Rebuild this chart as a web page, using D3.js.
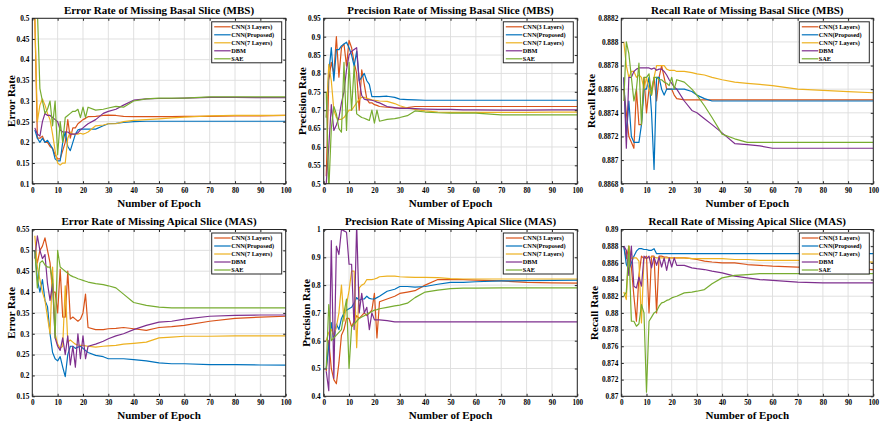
<!DOCTYPE html>
<html>
<head>
<meta charset="utf-8">
<script src="https://cdn.jsdelivr.net/npm/d3@7"></script>
<style>
  body { margin: 0; background: #fff; }
  text { font-family: "Liberation Serif", "Times New Roman", serif; font-weight: bold; fill: #000; }
</style>
</head>
<body>
<script>
const epochs = [1,2,3,4,5,6,7,8,9,10,11,12,13,14,15,16,17,18,19,20,21,22,25,28,30,33,36,40,45,50,55,60,70,80,90,100];
const seriesNames = ["CNN(3 Layers)", "CNN(Proposed)", "CNN(7 Layers)", "DBM", "SAE"];
const xTicks = [0,10,20,30,40,50,60,70,80,90,100];

// Error rate, MBS
const errMbsCnn3 = [0.50,0.21,0.21,0.215,0.20,0.20,0.19,0.185,0.17,0.16,0.16,0.18,0.20,0.255,0.21,0.235,0.235,0.245,0.25,0.255,0.258,0.262, 0.263,0.265,0.266,0.265,0.263,0.262,0.262,0.262,0.262,0.263,0.263,0.264,0.264,0.265];
const errMbsProp = [0.23,0.21,0.20,0.21,0.20,0.205,0.195,0.185,0.16,0.155,0.155,0.20,0.225,0.19,0.18,0.20,0.22,0.23,0.232,0.232,0.232,0.232, 0.232,0.24,0.245,0.246,0.248,0.25,0.251,0.251,0.251,0.251,0.251,0.251,0.251,0.251];
const errMbsCnn7 = [0.50,0.25,0.29,0.305,0.29,0.27,0.255,0.22,0.18,0.15,0.145,0.15,0.15,0.21,0.225,0.22,0.22,0.22,0.222,0.22,0.222,0.225, 0.24,0.242,0.245,0.245,0.25,0.253,0.255,0.257,0.259,0.261,0.264,0.265,0.265,0.265];
const errMbsDbm = [0.235,0.22,0.215,0.25,0.27,0.265,0.265,0.26,0.255,0.25,0.23,0.225,0.225,0.225,0.22,0.22,0.22,0.223,0.23,0.235,0.24,0.245, 0.255,0.27,0.275,0.28,0.29,0.302,0.305,0.306,0.306,0.307,0.309,0.309,0.308,0.308];
const errMbsSae = [0.52,0.52,0.33,0.30,0.27,0.28,0.30,0.24,0.30,0.17,0.25,0.20,0.26,0.265,0.27,0.275,0.275,0.28,0.26,0.285,0.26,0.285, 0.278,0.28,0.283,0.287,0.285,0.30,0.305,0.307,0.307,0.307,0.31,0.31,0.31,0.31];
const errMbsTicks = [0.1,0.15,0.2,0.25,0.3,0.35,0.4,0.45,0.5];

// Precision rate, MBS
const precMbsCnn3 = [0.52,0.78,0.83,0.80,0.90,0.79,0.87,0.88,0.82,0.89,0.87,0.83,0.80,0.70,0.81,0.77,0.73,0.72,0.72,0.715,0.713,0.71, 0.708,0.706,0.706,0.707,0.71,0.71,0.71,0.71,0.71,0.71,0.71,0.71,0.71,0.71];
const precMbsProp = [0.68,0.80,0.87,0.78,0.865,0.865,0.875,0.88,0.885,0.87,0.85,0.82,0.86,0.78,0.79,0.80,0.78,0.77,0.737,0.737,0.737,0.737, 0.738,0.735,0.73,0.729,0.728,0.727,0.727,0.727,0.727,0.727,0.727,0.727,0.727,0.727];
const precMbsCnn7 = [0.68,0.825,0.78,0.70,0.68,0.675,0.675,0.68,0.69,0.70,0.70,0.71,0.72,0.73,0.735,0.735,0.732,0.73,0.728,0.727,0.726,0.725, 0.724,0.718,0.712,0.706,0.702,0.698,0.695,0.694,0.694,0.694,0.694,0.694,0.695,0.695];
const precMbsDbm = [0.50,0.60,0.715,0.645,0.66,0.68,0.72,0.75,0.81,0.85,0.86,0.865,0.87,0.78,0.74,0.73,0.728,0.728,0.727,0.725,0.722,0.72, 0.71,0.707,0.705,0.705,0.704,0.703,0.702,0.702,0.701,0.701,0.70,0.70,0.701,0.701];
const precMbsSae = [0.75,0.48,0.65,0.71,0.69,0.65,0.64,0.83,0.645,0.83,0.70,0.82,0.69,0.685,0.68,0.678,0.675,0.672,0.70,0.665,0.70,0.67, 0.675,0.677,0.68,0.685,0.698,0.695,0.693,0.692,0.692,0.692,0.687,0.687,0.687,0.687];
const precMbsTicks = [0.5,0.55,0.6,0.65,0.7,0.75,0.8,0.85,0.9,0.95];

// Recall rate, MBS
const recMbsCnn3 = [0.8876,0.8874,0.8872,0.88715,0.8871,0.8876,0.8873,0.8873,0.8877,0.8874,0.8876,0.8876,0.8877,0.8875,0.8877,0.8878,0.8877,0.8876,0.8876,0.8876,0.88755,0.88752, 0.88751,0.88751,0.88751,0.88751,0.88751,0.88751,0.88751,0.88751,0.88751,0.88751,0.88751,0.88751,0.88751,0.88751];
const recMbsProp = [0.8877,0.8872,0.8875,0.8872,0.88715,0.88715,0.88715,0.8873,0.8876,0.8876,0.8877,0.8874,0.88692,0.8877,0.8877,0.8876,0.88755,0.8876,0.8876,0.8876,0.8876,0.8876, 0.8876,0.88758,0.88755,0.88752,0.8875,0.8875,0.8875,0.8875,0.8875,0.8875,0.8875,0.8875,0.8875,0.8875];
const recMbsCnn7 = [0.8880,0.8878,0.8877,0.88775,0.88775,0.8877,0.88772,0.8877,0.8876,0.8877,0.8876,0.88755,0.8877,0.8878,0.8878,0.8878,0.8878,0.88777,0.88776,0.88776,0.88776,0.88775, 0.88775,0.88774,0.88773,0.88772,0.8877,0.88768,0.88766,0.88765,0.88764,0.88763,0.8876,0.88759,0.88758,0.88757];
const recMbsDbm = [0.8877,0.8871,0.8877,0.8877,0.88775,0.88777,0.88778,0.88778,0.88778,0.88778,0.88778,0.88777,0.88778,0.88776,0.88777,0.88777,0.88775,0.88772,0.88768,0.88765,0.88762,0.8876, 0.8875,0.88742,0.8874,0.88735,0.8873,0.88723,0.88714,0.88713,0.88712,0.8871,0.8871,0.8871,0.8871,0.8871];
const recMbsSae = [0.8875,0.8880,0.8879,0.8877,0.8875,0.8876,0.88782,0.8873,0.8877,0.8877,0.88773,0.88755,0.8877,0.8877,0.88768,0.88768,0.88766,0.88765,0.88763,0.8877,0.8876,0.88768, 0.88766,0.8876,0.88755,0.88746,0.88736,0.88722,0.88718,0.88715,0.88715,0.88715,0.88715,0.88715,0.88715,0.88715];
const recMbsTicks = [0.8868,0.887,0.8872,0.8874,0.8876,0.8878,0.888,0.8882];

// Error rate, MAS
const errMasCnn3 = [0.50,0.47,0.50,0.51,0.53,0.50,0.47,0.40,0.40,0.35,0.455,0.34,0.34,0.45,0.335,0.34,0.335,0.33,0.335,0.35,0.395,0.315, 0.31,0.31,0.312,0.313,0.315,0.312,0.308,0.315,0.317,0.32,0.33,0.337,0.34,0.342];
const errMasProp = [0.50,0.43,0.40,0.43,0.38,0.365,0.30,0.255,0.24,0.235,0.245,0.22,0.197,0.25,0.27,0.27,0.265,0.268,0.27,0.265,0.26,0.255, 0.248,0.245,0.24,0.24,0.24,0.238,0.235,0.23,0.228,0.228,0.226,0.226,0.225,0.225];
const errMasCnn7 = [0.535,0.46,0.43,0.40,0.38,0.34,0.30,0.46,0.30,0.275,0.265,0.27,0.415,0.28,0.285,0.28,0.275,0.273,0.272,0.272,0.271,0.27, 0.268,0.27,0.271,0.272,0.275,0.277,0.28,0.29,0.292,0.294,0.294,0.295,0.295,0.295];
const errMasDbm = [0.48,0.535,0.50,0.48,0.49,0.42,0.38,0.42,0.29,0.27,0.26,0.29,0.25,0.295,0.225,0.27,0.22,0.30,0.24,0.295,0.24,0.27, 0.275,0.282,0.288,0.295,0.30,0.31,0.32,0.328,0.33,0.335,0.342,0.344,0.345,0.345];
const errMasSae = [0.50,0.41,0.47,0.475,0.465,0.46,0.46,0.43,0.29,0.50,0.46,0.455,0.45,0.445,0.44,0.437,0.435,0.432,0.43,0.428,0.426,0.424, 0.42,0.418,0.415,0.41,0.395,0.375,0.368,0.364,0.362,0.362,0.362,0.362,0.362,0.362];
const errMasTicks = [0.15,0.2,0.25,0.3,0.35,0.4,0.45,0.5,0.55];

// Precision rate, MAS
const precMasCnn3 = [0.49,0.60,0.50,0.46,0.445,0.52,0.62,0.64,0.68,0.68,0.65,0.67,0.69,0.68,0.69,0.70,0.69,0.70,0.71,0.77,0.61,0.74, 0.75,0.76,0.77,0.775,0.78,0.80,0.82,0.82,0.82,0.818,0.815,0.81,0.808,0.807];
const precMasProp = [0.50,0.58,0.665,0.60,0.66,0.64,0.68,0.70,0.71,0.715,0.72,0.735,0.755,0.745,0.75,0.75,0.76,0.752,0.75,0.75,0.755,0.76, 0.778,0.785,0.795,0.795,0.793,0.795,0.803,0.81,0.81,0.812,0.815,0.816,0.817,0.818];
const precMasCnn7 = [0.60,0.63,0.64,0.62,0.65,0.70,0.80,0.67,0.73,0.78,0.85,0.85,0.575,0.79,0.80,0.805,0.82,0.82,0.82,0.822,0.825,0.83, 0.832,0.832,0.83,0.829,0.828,0.828,0.827,0.823,0.822,0.822,0.822,0.822,0.822,0.822];
const precMasDbm = [0.49,0.42,0.96,0.465,0.94,0.91,1.0,0.995,0.99,0.875,0.875,0.64,1.02,0.70,0.77,0.70,0.72,0.64,0.70,0.675,0.675,0.675, 0.672,0.668,0.668,0.668,0.668,0.668,0.668,0.668,0.668,0.668,0.668,0.668,0.668,0.668];
const precMasSae = [0.50,0.73,0.60,0.61,0.62,0.63,0.64,0.70,0.75,0.50,0.65,0.66,0.67,0.68,0.685,0.69,0.695,0.70,0.705,0.71,0.712,0.715, 0.72,0.725,0.728,0.735,0.755,0.775,0.782,0.787,0.789,0.789,0.79,0.79,0.79,0.79];
const precMasTicks = [0.4,0.5,0.6,0.7,0.8,0.9,1];

// Recall rate, MAS
const recMasCnn3 = [0.888,0.8865,0.888,0.8855,0.882,0.879,0.8845,0.8868,0.8865,0.8868,0.880,0.8868,0.8868,0.880,0.8868,0.8868,0.8867,0.8867,0.8866,0.8866,0.8866,0.8866, 0.8866,0.8865,0.8864,0.8862,0.8861,0.886,0.886,0.8858,0.8857,0.8856,0.8855,0.8854,0.8853,0.8852];
const recMasProp = [0.888,0.8858,0.8852,0.886,0.8868,0.8874,0.8877,0.8877,0.8876,0.8876,0.8875,0.8875,0.8877,0.8871,0.8871,0.8871,0.8871,0.8871,0.8871,0.8871,0.8871,0.8871, 0.8871,0.8871,0.8871,0.8871,0.8871,0.8871,0.8871,0.8871,0.8871,0.8871,0.8871,0.8871,0.8871,0.8871];
const recMasCnn7 = [0.8825,0.8816,0.888,0.8865,0.8866,0.8866,0.8862,0.8788,0.8866,0.8866,0.8866,0.8867,0.8867,0.8866,0.8866,0.8866,0.8866,0.8866,0.8866,0.8866,0.8866,0.8866, 0.8866,0.8865,0.8865,0.8865,0.8865,0.8865,0.8864,0.8864,0.8863,0.8863,0.8863,0.8862,0.8862,0.8861];
const recMasDbm = [0.888,0.8875,0.8845,0.888,0.8832,0.883,0.8843,0.8832,0.8868,0.8865,0.8868,0.8854,0.8867,0.8857,0.8867,0.8855,0.8866,0.8851,0.8866,0.8855,0.8866,0.8857, 0.8857,0.8854,0.8853,0.8852,0.885,0.8848,0.8844,0.8842,0.884,0.8839,0.8837,0.8836,0.8836,0.8836];
const recMasSae = [0.882,0.8825,0.888,0.879,0.879,0.8784,0.8787,0.881,0.880,0.8705,0.879,0.8795,0.880,0.8802,0.8808,0.8812,0.8813,0.8815,0.8816,0.8818,0.8819,0.882, 0.8824,0.8825,0.8826,0.8828,0.8835,0.8842,0.8845,0.8846,0.8847,0.8847,0.8847,0.8847,0.8847,0.8847];
const recMasTicks = [0.87,0.872,0.874,0.876,0.878,0.88,0.882,0.884,0.886,0.888,0.89];

const colors = ["#D95319", "#0072BD", "#EDB120", "#7E2F8E", "#77AC30"];

const panels = [
  {title: "Error Rate of Missing Basal Slice (MBS)", ylabel: "Error Rate", ticks: errMbsTicks,
   series: [errMbsCnn3, errMbsProp, errMbsCnn7, errMbsDbm, errMbsSae]},
  {title: "Precision Rate of Missing Basal Slice (MBS)", ylabel: "Precision Rate", ticks: precMbsTicks,
   series: [precMbsCnn3, precMbsProp, precMbsCnn7, precMbsDbm, precMbsSae]},
  {title: "Recall Rate of Missing Basal Slice (MBS)", ylabel: "Recall Rate", ticks: recMbsTicks,
   series: [recMbsCnn3, recMbsProp, recMbsCnn7, recMbsDbm, recMbsSae]},
  {title: "Error Rate of Missing Apical Slice (MAS)", ylabel: "Error Rate", ticks: errMasTicks,
   series: [errMasCnn3, errMasProp, errMasCnn7, errMasDbm, errMasSae]},
  {title: "Precision Rate of Missing Apical Slice (MAS)", ylabel: "Precision Rate", ticks: precMasTicks,
   series: [precMasCnn3, precMasProp, precMasCnn7, precMasDbm, precMasSae]},
  {title: "Recall Rate of Missing Apical Slice (MAS)", ylabel: "Recall Rate", ticks: recMasTicks,
   series: [recMasCnn3, recMasProp, recMasCnn7, recMasDbm, recMasSae]}
];

// plot boxes (pixels) and y-label positions
const boxes = [
  {x0: 32.3, x1: 285.7, y0: 18.3, y1: 183.7, ylx: 14.5},
  {x0: 323.7, x1: 577.3, y0: 18.3, y1: 183.7, ylx: 305.5},
  {x0: 621.3, x1: 873.3, y0: 18.3, y1: 183.7, ylx: 594.5},
  {x0: 32.3, x1: 285.7, y0: 229.5, y1: 396.3, ylx: 14.5},
  {x0: 323.7, x1: 577.3, y0: 229.5, y1: 396.3, ylx: 309.5},
  {x0: 621.3, x1: 873.3, y0: 229.5, y1: 396.3, ylx: 598}
];

const svg = d3.select("body").append("svg")
    .attr("width", 881).attr("height", 422)
    .attr("viewBox", [0, 0, 881, 422]);

const fmt = d => String(+d.toFixed(5));

panels.forEach(function(p, i) {
    const b = boxes[i];
    const w = b.x1 - b.x0, h = b.y1 - b.y0;
    const x = d3.scaleLinear([0, 100], [0, w]);
    const y = d3.scaleLinear([p.ticks[0], p.ticks[p.ticks.length - 1]], [h, 0]);

    const g = svg.append("g").attr("transform", `translate(${b.x0},${b.y0})`);

    // grid
    g.append("g").selectAll("line").data(xTicks).join("line")
        .attr("x1", d => x(d)).attr("x2", d => x(d)).attr("y1", 0).attr("y2", h)
        .attr("stroke", "#dcdcdc").attr("stroke-width", 0.9);
    g.append("g").selectAll("line").data(p.ticks).join("line")
        .attr("y1", d => y(d)).attr("y2", d => y(d)).attr("x1", 0).attr("x2", w)
        .attr("stroke", "#dcdcdc").attr("stroke-width", 0.9);

    g.append("clipPath").attr("id", "clip" + i)
      .append("rect").attr("width", w).attr("height", h);

    const line = d3.line().x((d, k) => x(epochs[k])).y(d => y(d));

    g.append("g").attr("clip-path", `url(#clip${i})`)
      .selectAll("path").data(p.series).join("path")
        .attr("fill", "none")
        .attr("stroke", (d, k) => colors[k])
        .attr("stroke-width", 1.2)
        .attr("stroke-linejoin", "round")
        .attr("d", line);

    // axes
    const xa = g.append("g").attr("transform", `translate(0,${h})`)
        .call(d3.axisBottom(x).tickValues(xTicks).tickSize(-2.5).tickPadding(4).tickFormat(fmt));
    const ya = g.append("g")
        .call(d3.axisLeft(y).tickValues(p.ticks).tickSize(-2.5).tickPadding(3).tickFormat(fmt));
    g.append("g").call(d3.axisTop(x).tickValues(xTicks).tickSize(-2.5).tickFormat(""));
    g.append("g").attr("transform", `translate(${w},0)`)
        .call(d3.axisRight(y).tickValues(p.ticks).tickSize(-2.5).tickFormat(""));
    svg.selectAll(".domain").remove();
    g.selectAll(".tick line").attr("stroke", "#262626");
    xa.selectAll("text").style("font-size", "7.2px");
    ya.selectAll("text").style("font-size", "7.3px");

    g.append("rect").attr("width", w).attr("height", h)
        .attr("fill", "none").attr("stroke", "#262626").attr("stroke-width", 1);

    // labels
    svg.append("text").attr("x", b.x0 + w / 2).attr("y", b.y0 - 4.8)
        .attr("text-anchor", "middle").style("font-size", "11px").text(p.title);
    svg.append("text").attr("x", b.x0 + w / 2).attr("y", b.y1 + 23)
        .attr("text-anchor", "middle").style("font-size", "11px").text("Number of Epoch");
    svg.append("text")
        .attr("transform", `translate(${b.ylx},${b.y0 + h / 2}) rotate(-90)`)
        .attr("text-anchor", "middle").style("font-size", "11px").text(p.ylabel);

    // legend
    const lw = 70, lh = 41;
    const lg = g.append("g").attr("transform", `translate(${w - lw - 4},${3.5})`);
    lg.append("rect").attr("width", lw).attr("height", lh)
        .attr("fill", "#fff").attr("stroke", "#262626").attr("stroke-width", 1);
    const row = lg.selectAll("g.row").data(seriesNames).join("g")
        .attr("transform", (d, k) => `translate(0,${5 + k * 8})`);
    row.append("line").attr("x1", 2.5).attr("x2", 19)
        .attr("stroke", (d, k) => colors[k]).attr("stroke-width", 1.2);
    row.append("text").attr("x", 19.5).attr("y", 2.2)
        .style("font-size", "6.3px").text(d => d);
});
</script>
</body>
</html>
